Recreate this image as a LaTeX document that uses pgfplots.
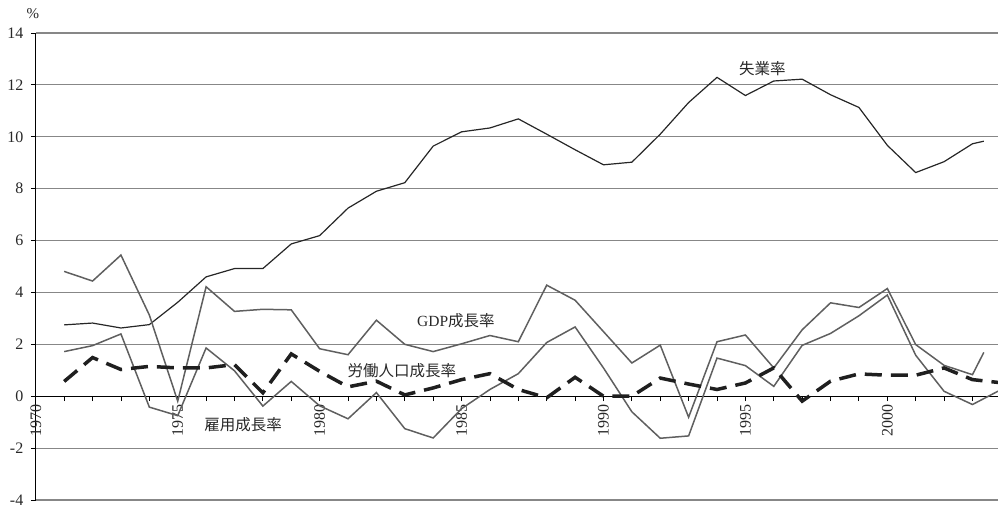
\documentclass[border=0pt]{standalone}
\usepackage{pgfplots}
\pgfplotsset{compat=1.18}
\usepackage{fontspec}
\setmainfont{Liberation Serif}
\newfontfamily\cjk{Noto Sans CJK JP}
\definecolor{gridgray}{RGB}{135,135,135}
\definecolor{linegray}{RGB}{95,95,95}
\definecolor{txtgray}{RGB}{40,40,40}

% unemployment
\pgfplotstableread{
year val
1971 2.75
1972 2.82
1973 2.63
1974 2.76
1975 3.62
1976 4.60
1977 4.92
1978 4.92
1979 5.87
1980 6.19
1981 7.25
1982 7.90
1983 8.23
1984 9.64
1985 10.19
1986 10.34
1987 10.69
1988 10.10
1989 9.50
1990 8.92
1991 9.02
1992 10.10
1993 11.32
1994 12.29
1995 11.59
1996 12.15
1997 12.22
1998 11.62
1999 11.13
2000 9.67
2001 8.62
2002 9.04
2003 9.73
2003.4 9.83
}\unemp

% GDP growth
\pgfplotstableread{
year val
1971 4.81
1972 4.44
1973 5.44
1974 3.13
1975 -0.19
1976 4.22
1977 3.27
1978 3.35
1979 3.33
1980 1.83
1981 1.60
1982 2.93
1983 2.00
1984 1.72
1985 2.02
1986 2.34
1987 2.10
1988 4.28
1989 3.70
1990 2.49
1991 1.28
1992 1.97
1993 -0.81
1994 2.10
1995 2.36
1996 1.09
1997 2.56
1998 3.60
1999 3.42
2000 4.15
2001 1.99
2002 1.19
2003 0.83
2003.4 1.69
}\gdp

% employment growth
\pgfplotstableread{
year val
1971 1.72
1972 1.95
1973 2.40
1974 -0.42
1975 -0.75
1976 1.86
1977 0.98
1978 -0.38
1979 0.57
1980 -0.37
1981 -0.87
1982 0.14
1983 -1.25
1984 -1.61
1985 -0.48
1986 0.26
1987 0.87
1988 2.07
1989 2.67
1990 1.09
1991 -0.60
1992 -1.62
1993 -1.53
1994 1.47
1995 1.18
1996 0.38
1997 1.96
1998 2.42
1999 3.10
2000 3.90
2001 1.58
2002 0.19
2003 -0.32
2004 0.25
}\empl

% labour force growth
\pgfplotstableread{
year val
1971 0.57
1972 1.49
1973 1.03
1974 1.15
1975 1.09
1976 1.09
1977 1.22
1978 0.13
1979 1.63
1980 0.96
1981 0.36
1982 0.58
1983 0.05
1984 0.32
1985 0.64
1986 0.87
1987 0.26
1988 -0.06
1989 0.73
1990 0.00
1991 0.00
1992 0.70
1993 0.47
1994 0.26
1995 0.51
1996 1.09
1997 -0.19
1998 0.58
1999 0.86
2000 0.81
2001 0.81
2002 1.09
2003 0.64
2004 0.52
}\labor

\begin{document}
\begin{tikzpicture}
\begin{axis}[
    name=ax,
    scale only axis,
    width=962.2bp,
    height=467bp,
    xmin=1970, xmax=2003.9,
    ymin=-4, ymax=14,
    axis x line*=middle,
    axis y line*=left,
    hide obscured x ticks=false,
    axis line style={black, line width=0.9bp},
    xtick={1970,1975,...,2000},
    minor xtick={1971,...,2003},
    xticklabels={1970,1975,1980,1985,1990,1995,2000},
    ytick={-4,-2,...,14},
    yticklabels={-4,-2,0,2,4,6,8,10,12,14},
    ymajorgrids,
    major grid style={gridgray, line width=1.2bp},
    major tick length=5bp,
    minor tick length=5bp,
    xtick align=outside,
    ytick align=outside,
    tick style={black, line width=0.8bp},
    xticklabel style={rotate=90, anchor=east, font=\fontsize{16bp}{18bp}\selectfont, text=txtgray},
    yticklabel style={font=\fontsize{16bp}{18bp}\selectfont, text=txtgray, xshift=-4bp},
    clip=true,
]
\addplot[black!85, line width=1.2bp] table[x=year, y=val] {\unemp};
\addplot[linegray, line width=1.5bp] table[x=year, y=val] {\gdp};
\addplot[linegray, line width=1.5bp] table[x=year, y=val] {\empl};
\addplot[black!88, line width=3.5bp, dash pattern=on 17bp off 9bp] table[x=year, y=val] {\labor};

\node[text=txtgray, font=\cjk\fontsize{15.5bp}{17bp}\selectfont] at (axis cs:1995.6,12.63) {失業率};
\node[text=txtgray, font=\fontsize{15.5bp}{17bp}\selectfont] at (axis cs:1984.8,2.93) {GDP{\cjk 成長率}};
\node[text=txtgray, font=\cjk\fontsize{15.5bp}{17bp}\selectfont] at (axis cs:1982.9,0.97) {労働人口成長率};
\node[text=txtgray, font=\cjk\fontsize{15.5bp}{17bp}\selectfont] at (axis cs:1977.3,-1.1) {雇用成長率};
\end{axis}
\node[text=txtgray, font=\fontsize{15bp}{17bp}\selectfont] at ([shift={(-3bp,19bp)}]ax.north west) {\%};
\pgfresetboundingbox
\path[use as bounding box] ([shift={(-35.8bp,-8bp)}]ax.south west) rectangle ([shift={(0bp,33bp)}]ax.north east);
\end{tikzpicture}
\end{document}
